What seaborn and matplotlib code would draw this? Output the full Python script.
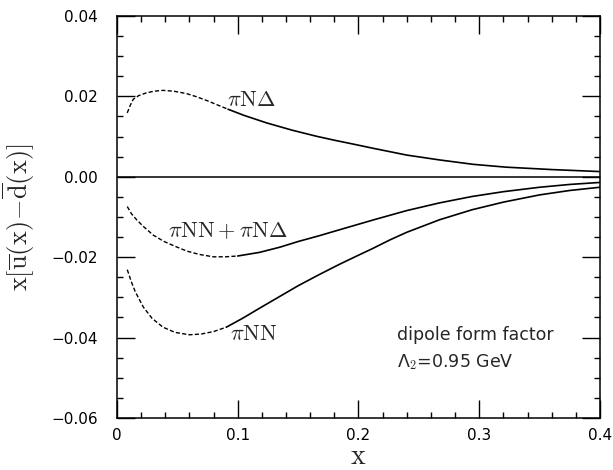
import numpy as np
import pandas as pd
import matplotlib
matplotlib.use("Agg")
import matplotlib.pyplot as plt
from matplotlib.ticker import MultipleLocator, FixedLocator, FixedFormatter
import seaborn as sns

# x[ubar(x) - dbar(x)] for the pion-cloud contributions
x_ndelta = [0.0085, 0.011, 0.0135, 0.018, 0.0245, 0.031, 0.038, 0.047, 0.0576, 0.066,
            0.075, 0.083, 0.092, 0.105, 0.124, 0.145, 0.165, 0.18, 0.193, 0.212,
            0.24, 0.267, 0.295, 0.322, 0.36, 0.4]
y_ndelta = [0.0159, 0.0178, 0.0193, 0.0202, 0.0209, 0.0213, 0.0215, 0.0213, 0.0207, 0.0199,
            0.0189, 0.0179, 0.0168, 0.0153, 0.0134, 0.0116, 0.0101, 0.0091, 0.0083, 0.0071,
            0.0054, 0.0042, 0.0031, 0.0024, 0.0018, 0.0013]

x_sum = [0.0085, 0.012, 0.0163, 0.022, 0.03, 0.039, 0.049, 0.058, 0.068, 0.0796,
         0.09, 0.1, 0.118, 0.135, 0.15, 0.167, 0.184, 0.2126, 0.24, 0.267,
         0.294, 0.32, 0.35, 0.375, 0.4]
y_sum = [-0.0074, -0.0092, -0.0107, -0.0124, -0.0145, -0.0161, -0.0174, -0.0185, -0.0193, -0.0199,
         -0.0199, -0.0197, -0.0188, -0.0175, -0.0161, -0.0147, -0.0132, -0.0107, -0.0084, -0.0065,
         -0.0049, -0.0037, -0.0026, -0.0019, -0.0014]

x_nn = [0.0085, 0.012, 0.015, 0.0218, 0.029, 0.038, 0.048, 0.060, 0.070, 0.08,
        0.0906, 0.104, 0.118, 0.134, 0.15, 0.167, 0.184, 0.2, 0.212, 0.226,
        0.24, 0.267, 0.294, 0.32, 0.35, 0.375, 0.4]
y_nn = [-0.0231, -0.0262, -0.0285, -0.0324, -0.0352, -0.0374, -0.0387, -0.0393, -0.0391, -0.0385,
        -0.0374, -0.0352, -0.0327, -0.0299, -0.0271, -0.0244, -0.0218, -0.0195, -0.0178, -0.0157,
        -0.0138, -0.0107, -0.0082, -0.0063, -0.0045, -0.0034, -0.0026]

# below these x values the curves are drawn dashed
x_break = {"ndelta": 0.092, "sum": 0.1, "nn": 0.0906}

curve_labels = [r"$\pi\mathrm{N}\Delta$", r"$\pi\mathrm{NN}+\pi\mathrm{N}\Delta$", r"$\pi\mathrm{NN}$"]
label_pos = [(0.1116, 0.0190), (0.0917, -0.0135), (0.113, -0.0392)]

x_ticks = [0, 0.1, 0.2, 0.3, 0.4]
x_ticklabels = ["0", "0.1", "0.2", "0.3", "0.4"]
y_ticks = [-0.06, -0.04, -0.02, 0.0, 0.02, 0.04]
y_ticklabels = ["\u22120.06", "\u22120.04", "\u22120.02", "0.00", "0.02", "0.04"]

sns.set_style("ticks")
plt.rcParams["font.family"] = ["DejaVu Sans"]
plt.rcParams["mathtext.fontset"] = "cm"

fig = plt.figure(figsize=(6.13, 4.70), dpi=100)
ax = fig.add_axes([0.19086, 0.11064, 0.78793, 0.85532])

for name, xs, ys in [("ndelta", x_ndelta, y_ndelta), ("sum", x_sum, y_sum), ("nn", x_nn, y_nn)]:
    df = pd.DataFrame({"x": xs, "y": ys})
    xb = x_break[name]
    low = df[df["x"] <= xb + 1e-9]
    high = df[df["x"] >= xb - 1e-9]
    sns.lineplot(data=low, x="x", y="y", ax=ax, color="black", lw=1.0,
                 estimator=None, sort=False, linestyle=(0, (3, 1.6)))
    sns.lineplot(data=high, x="x", y="y", ax=ax, color="black", lw=1.2,
                 estimator=None, sort=False)

ax.axhline(0.0, color="black", lw=1.1)

for text, (tx, ty) in zip(curve_labels, label_pos):
    ax.text(tx, ty, text, fontsize=16, ha="center", va="center")

ax.text(0.2315, -0.0393, "dipole form factor", fontsize=12.5, ha="left", va="center")
ax.text(0.2315, -0.0460, "\u039b$_\\mathbf{2}$=0.95 GeV", fontsize=12.5, ha="left", va="center")

ax.set_xlim(0, 0.4)
ax.set_ylim(-0.06, 0.04)
ax.xaxis.set_major_locator(FixedLocator(x_ticks))
ax.xaxis.set_major_formatter(FixedFormatter(x_ticklabels))
ax.yaxis.set_major_locator(FixedLocator(y_ticks))
ax.yaxis.set_major_formatter(FixedFormatter(y_ticklabels))
ax.xaxis.set_minor_locator(MultipleLocator(0.02))
ax.yaxis.set_minor_locator(MultipleLocator(0.005))
ax.tick_params(which="both", direction="in", top=True, right=True, width=1.0, colors="black")
ax.tick_params(which="major", length=13)
ax.tick_params(which="minor", length=4.5)
ax.tick_params(axis="x", which="major", pad=7, labelsize=11)
ax.tick_params(axis="y", which="major", pad=14, labelsize=11)
for sp in ax.spines.values():
    sp.set_linewidth(1.1)
    sp.set_color("black")

ax.set_xlabel(r"$\mathrm{x}$", fontsize=20, va="center")
ax.set_ylabel(r"$\mathrm{x}[\overline{\mathrm{u}}(\mathrm{x})\!-\!\overline{\mathrm{d}}(\mathrm{x})]$", fontsize=19)
ax.xaxis.set_label_coords(0.5, -0.094)
ax.yaxis.set_label_coords(-0.166, 0.5)

fig.savefig("out.png", dpi=100)
